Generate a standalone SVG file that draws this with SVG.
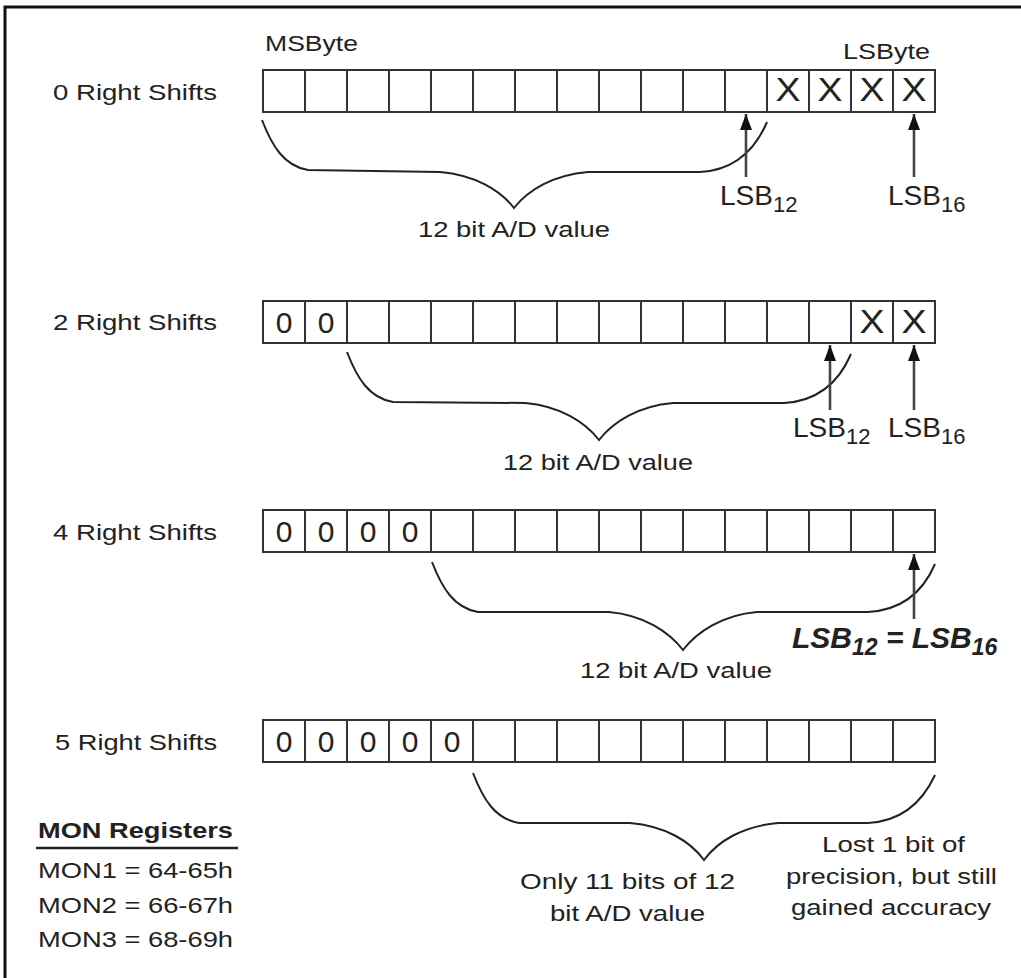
<svg xmlns="http://www.w3.org/2000/svg" width="1021" height="978" viewBox="0 0 1021 978">
<defs>
<style>
text{font-family:"Liberation Sans",Arial,sans-serif;fill:#222}
.lbl{font-size:22px}
.cell{font-size:30px}
.xx{font-size:33px}
.lsb{font-size:28px}
.reg{fill:none;stroke:#333;stroke-width:2}
.brace{fill:none;stroke:#222;stroke-width:2}
.arrow{fill:none;stroke:#444;stroke-width:2.6}
.frame{fill:none;stroke:#111;stroke-width:3}
</style>
<marker id="ah" viewBox="0 0 16 12" markerWidth="16" markerHeight="12" refX="16" refY="6" orient="auto" markerUnits="userSpaceOnUse">
<path d="M0,0 L16,6 L0,12 Z" fill="#111"/>
</marker>
</defs>
<rect width="1021" height="978" fill="#fff"/>
<path class="frame" d="M5,978 L5,7 L1021,7"/>

<g id="header">
<text class="lbl" x="265" y="51" textLength="93" lengthAdjust="spacingAndGlyphs">MSByte</text>
<text class="lbl" x="843" y="59" textLength="87" lengthAdjust="spacingAndGlyphs">LSByte</text>
</g>

<g id="row0">
<text class="lbl" x="53" y="100" textLength="164" lengthAdjust="spacingAndGlyphs">0 Right Shifts</text>
<rect class="reg" x="263" y="70" width="672" height="42"/>
<path class="reg" d="M305,70v42M347,70v42M389,70v42M431,70v42M473,70v42M515,70v42M557,70v42M599,70v42M641,70v42M683,70v42M725,70v42M767,70v42M809,70v42M851,70v42M893,70v42"/>
<g class="xx" text-anchor="middle">
<text x="788" y="101" textLength="25" lengthAdjust="spacingAndGlyphs">X</text>
<text x="830" y="101" textLength="25" lengthAdjust="spacingAndGlyphs">X</text>
<text x="872" y="101" textLength="25" lengthAdjust="spacingAndGlyphs">X</text>
<text x="914" y="101" textLength="25" lengthAdjust="spacingAndGlyphs">X</text>
</g>
<text class="lbl" x="418" y="237" textLength="192" lengthAdjust="spacingAndGlyphs">12 bit A/D value</text>
<text class="lsb" x="720" y="205">LSB<tspan font-size="22" dy="7">12</tspan></text>
<text class="lsb" x="888" y="205">LSB<tspan font-size="22" dy="7">16</tspan></text>
</g>

<g id="row2">
<text class="lbl" x="53" y="330" textLength="164" lengthAdjust="spacingAndGlyphs">2 Right Shifts</text>
<rect class="reg" x="263" y="301" width="672" height="42"/>
<path class="reg" d="M305,301v42M347,301v42M389,301v42M431,301v42M473,301v42M515,301v42M557,301v42M599,301v42M641,301v42M683,301v42M725,301v42M767,301v42M809,301v42M851,301v42M893,301v42"/>
<g class="cell" text-anchor="middle">
<text x="284" y="333">0</text>
<text x="326" y="333">0</text>
</g>
<g class="xx" text-anchor="middle">
<text x="872" y="333" textLength="25" lengthAdjust="spacingAndGlyphs">X</text>
<text x="914" y="333" textLength="25" lengthAdjust="spacingAndGlyphs">X</text>
</g>
<text class="lbl" x="503" y="470" textLength="190" lengthAdjust="spacingAndGlyphs">12 bit A/D value</text>
<text class="lsb" x="793" y="437">LSB<tspan font-size="22" dy="7">12</tspan></text>
<text class="lsb" x="888" y="437">LSB<tspan font-size="22" dy="7">16</tspan></text>
</g>

<g id="row4">
<text class="lbl" x="53" y="540" textLength="164" lengthAdjust="spacingAndGlyphs">4 Right Shifts</text>
<rect class="reg" x="263" y="510" width="672" height="42"/>
<path class="reg" d="M305,510v42M347,510v42M389,510v42M431,510v42M473,510v42M515,510v42M557,510v42M599,510v42M641,510v42M683,510v42M725,510v42M767,510v42M809,510v42M851,510v42M893,510v42"/>
<g class="cell" text-anchor="middle">
<text x="284" y="542">0</text>
<text x="326" y="542">0</text>
<text x="368" y="542">0</text>
<text x="410" y="542">0</text>
</g>
<text class="lbl" x="580" y="678" textLength="192" lengthAdjust="spacingAndGlyphs">12 bit A/D value</text>
<text x="792" y="648" font-size="30" font-weight="bold" font-style="italic">LSB<tspan font-size="23" dy="7">12</tspan><tspan dy="-7"> = LSB</tspan><tspan font-size="23" dy="7">16</tspan></text>
</g>

<g id="row5">
<text class="lbl" x="55" y="750" textLength="162" lengthAdjust="spacingAndGlyphs">5 Right Shifts</text>
<rect class="reg" x="263" y="720" width="672" height="42"/>
<path class="reg" d="M305,720v42M347,720v42M389,720v42M431,720v42M473,720v42M515,720v42M557,720v42M599,720v42M641,720v42M683,720v42M725,720v42M767,720v42M809,720v42M851,720v42M893,720v42"/>
<g class="cell" text-anchor="middle">
<text x="284" y="752">0</text>
<text x="326" y="752">0</text>
<text x="368" y="752">0</text>
<text x="410" y="752">0</text>
<text x="452" y="752">0</text>
</g>
<text class="lbl" x="520" y="889" textLength="215" lengthAdjust="spacingAndGlyphs">Only 11 bits of 12</text>
<text class="lbl" x="550" y="921" textLength="155" lengthAdjust="spacingAndGlyphs">bit A/D value</text>
<text class="lbl" x="822" y="852" textLength="143" lengthAdjust="spacingAndGlyphs">Lost 1 bit of</text>
<text class="lbl" x="786" y="884" textLength="211" lengthAdjust="spacingAndGlyphs">precision, but still</text>
<text class="lbl" x="791" y="915" textLength="200" lengthAdjust="spacingAndGlyphs">gained accuracy</text>
</g>

<g id="legend">
<text class="lbl" x="38" y="838" font-weight="bold" textLength="195" lengthAdjust="spacingAndGlyphs">MON Registers</text>
<line x1="36" y1="848" x2="238" y2="848" stroke="#222" stroke-width="2.5"/>
<text class="lbl" x="38" y="878" textLength="195" lengthAdjust="spacingAndGlyphs">MON1 = 64-65h</text>
<text class="lbl" x="38" y="913" textLength="195" lengthAdjust="spacingAndGlyphs">MON2 = 66-67h</text>
<text class="lbl" x="38" y="947" textLength="195" lengthAdjust="spacingAndGlyphs">MON3 = 68-69h</text>
</g>

<g id="connectors">
<path class="brace" d="M262,120 C272,146 284,166 308,170 L440,172 C475,175 500,190 514,208 C528,190 553,175 588,172 L700,172 C735,170 755,150 767,122"/>
<path class="brace" d="M347,352 C357,378 369,398 393,402 L525,403 C560,406 585,422 599,440 C613,422 638,406 673,403 L784,403 C819,401 839,382 851,354"/>
<path class="brace" d="M432,562 C442,588 454,608 478,612 L609,612 C644,615 669,632 683,650 C697,632 722,615 757,612 L868,612 C903,610 923,592 935,564"/>
<path class="brace" d="M473,773 C483,799 495,819 519,823 L630,823 C665,826 690,841 704,860 C718,841 743,826 778,823 L868,823 C903,821 923,801 935,775"/>
<line class="arrow" x1="746" y1="177" x2="746" y2="114" marker-end="url(#ah)"/>
<line class="arrow" x1="914" y1="177" x2="914" y2="114" marker-end="url(#ah)"/>
<line class="arrow" x1="830" y1="410" x2="830" y2="345" marker-end="url(#ah)"/>
<line class="arrow" x1="914" y1="410" x2="914" y2="345" marker-end="url(#ah)"/>
<line class="arrow" x1="914" y1="619" x2="914" y2="554" marker-end="url(#ah)"/>
</g>
</svg>
